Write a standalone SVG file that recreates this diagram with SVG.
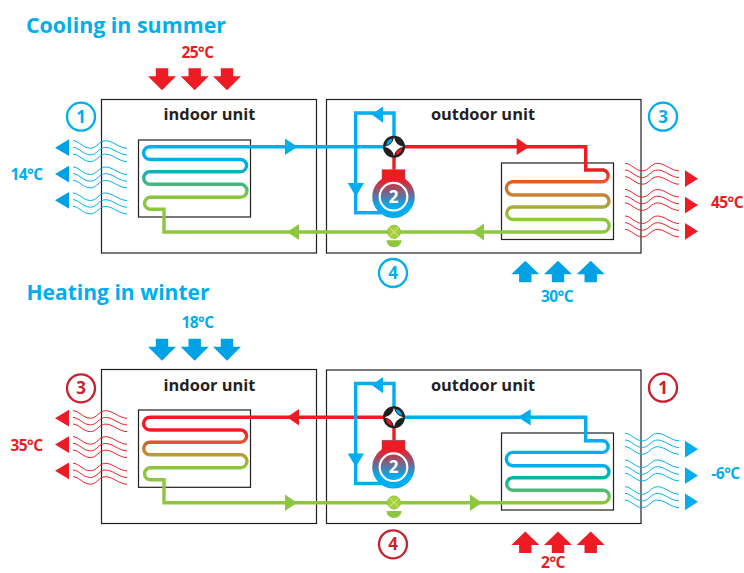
<svg xmlns="http://www.w3.org/2000/svg" width="744" height="573" viewBox="0 0 744 573">
<style>
text{font-family:"Open Sans","Noto Sans","Liberation Sans",sans-serif;font-weight:700}
.title{font-size:22px;fill:#00aeef}
.t{font-size:15.500px;letter-spacing:-.5px;text-anchor:middle}
.unit{font-size:16.400px;fill:#231f20;text-anchor:middle}
.n{font-size:17px;text-anchor:middle}
.box{fill:none;stroke:#231f20;stroke-width:1.2}
.pipe{fill:none;stroke-width:3.4;stroke-linejoin:miter}
.wave{fill:none;stroke-width:1}
.c{fill:none;stroke-width:2.3}
.blue{fill:#00aeef}.red{fill:#ed1c24}.darkb{fill:#00a2e5}
.sb{stroke:#00aeef}.sr{stroke:#ed1c24}.sg{stroke:#8dc63f}
.db{stroke:#00aeef;fill:none}.dr{stroke:#c9222f;fill:none}
</style>
<defs>
<linearGradient id="gI1" gradientUnits="userSpaceOnUse" x1="0" y1="146" x2="0" y2="198"><stop offset="0" stop-color="#00aeef"/><stop offset=".28" stop-color="#00aeef"/><stop offset=".5" stop-color="#0fb2b5"/><stop offset=".75" stop-color="#45b97c"/><stop offset="1" stop-color="#8dc63f"/></linearGradient>
<linearGradient id="gO1" gradientUnits="userSpaceOnUse" x1="0" y1="170" x2="0" y2="219"><stop offset="0" stop-color="#ed1c24"/><stop offset=".25" stop-color="#e0602a"/><stop offset=".5" stop-color="#c98035"/><stop offset=".75" stop-color="#a9a93a"/><stop offset="1" stop-color="#8dc63f"/></linearGradient>
<linearGradient id="gI2" gradientUnits="userSpaceOnUse" x1="0" y1="417" x2="0" y2="468"><stop offset="0" stop-color="#ed1c24"/><stop offset=".25" stop-color="#ed1c24"/><stop offset=".5" stop-color="#e5552c"/><stop offset=".75" stop-color="#b89d38"/><stop offset="1" stop-color="#8dc63f"/></linearGradient>
<linearGradient id="gO2" gradientUnits="userSpaceOnUse" x1="0" y1="440" x2="0" y2="502"><stop offset="0" stop-color="#00aeef"/><stop offset=".4" stop-color="#00aeef"/><stop offset=".6" stop-color="#00b4a5"/><stop offset=".8" stop-color="#4db97a"/><stop offset="1" stop-color="#8dc63f"/></linearGradient>
<linearGradient id="gC" x1="0" y1="0" x2="0" y2="1"><stop offset=".1" stop-color="#ed1c24"/><stop offset=".72" stop-color="#00aeef"/></linearGradient>
<path id="adown" d="M-6.200 0H6.200V8H14L0 22L-14 8H-6.200Z"/>
<path id="aup" d="M-6.200 21.500H6.200V13.500H14L0 0L-14 13.500H-6.200Z"/>
<g id="wv">
<path id="w1" d="M0 0C6 0 10 7.500 17.500 7.500C24 7.500 26 0 32.500 0C40 0 46 7.500 54 7.500"/>
<use href="#w1" y="6.700"/><use href="#w1" y="13.400"/>
</g>
<g id="valveStar"><circle r="11" fill="#231f20"/><path d="M0 -9.500Q1.500 -1.500 9.500 0Q1.500 1.500 0 9.500Q-1.500 1.500 -9.500 0Q-1.500 -1.500 0 -9.500Z" fill="#fff"/></g>
<g id="comp">
<rect x="-11.500" y="-27" width="23" height="13" fill="#ed1c24" stroke="#00aeef" stroke-width=".6"/>
<circle r="21.300" fill="url(#gC)"/>
<rect x="-11.200" y="-26.700" width="22.400" height="10" fill="#ed1c24"/>
<circle r="13.800" fill="none" stroke="#fff" stroke-width="2.200"/>
<text class="n" y="6.200" style="fill:#fff">2</text>
</g>
<g id="exp">
<circle r="6.500" fill="#a5cf3c" stroke="#8dc63f"/>
<path d="M-4.500 -4.500L4.500 4.500M-4.500 4.500L4.500 -4.500" stroke="#e6ee9c" stroke-width=".9"/>
<path d="M-7.500 8.500H7.500A7.500 7 0 0 1 -7.500 8.500Z" fill="#8dc63f"/>
</g>
</defs>

<text id="title-cooling" class="title" x="26" y="33" textLength="200" lengthAdjust="spacingAndGlyphs">Cooling in summer</text>
<text id="title-heating" class="title" x="26.500" y="300" textLength="183" lengthAdjust="spacingAndGlyphs">Heating in winter</text>

<g id="panel-cooling">
<g id="indoor-unit-1"><rect class="box" x="101.500" y="99.500" width="215" height="153.500"/><text class="unit" x="209.500" y="120">indoor unit</text><rect class="box" x="138.500" y="140" width="112" height="77"/></g>
<g id="outdoor-unit-1"><rect class="box" x="326.500" y="99.500" width="314.500" height="153.500"/><text class="unit" x="483" y="120">outdoor unit</text><rect class="box" x="501.500" y="163" width="112" height="76.500"/></g>

<g id="connectors-1">
<path class="pipe" stroke="url(#gI1)" d="M150 146.700A6.400 6.400 0 0 0 150 159.500H240.500A6.100 6.100 0 0 1 240.500 171.700H150A6.300 6.300 0 0 0 150 184.300H240.500A6.500 6.500 0 0 1 240.500 197.300H150"/>
<path class="pipe sg" d="M150.500 197.300A6 6 0 0 0 150.500 209.300H164V232H603A6.200 6.200 0 0 0 603 219.500"/>
<path class="pipe sb" d="M150 146.700H394"/>
<path class="pipe" stroke="url(#gO1)" d="M603 170A5.900 5.900 0 0 1 603 181.700H513A6.600 6.600 0 0 0 513 195H603A6 6 0 0 1 603 207H513A6.200 6.200 0 0 0 513 219.500H603"/>
<path class="pipe sr" d="M394 146.700H585.700V170H604M394 146.700V172"/>
<path class="pipe sb" d="M394 146.700V113H355.700V212.700H382"/>
<path class="blue" d="M285 138.500L297.500 146.700L285 155Z"/>
<path class="blue" d="M371.700 114.500L383 106.500V122.800Z"/>
<path class="blue" d="M347.700 183H364L355.800 196.500Z"/>
<path class="red" d="M516.700 138L529.500 146.700L516.700 155Z"/>
<path d="M287 232L299 224V240Z" fill="#8dc63f"/>
<path d="M472 232L484 223.500V240.500Z" fill="#8dc63f"/>
</g>
<g id="valve-1" transform="translate(394,146.700)"><use href="#valveStar"/><path d="M-8 -1.500Q-2.500 -3 -1.500 -8Q-7 -8 -8 -1.500Z" fill="#00aeef"/><path d="M8 1.500Q2.500 3 1.500 8Q7 8 8 1.500Z" fill="#ed1c24"/></g>
<g id="compressor-1" transform="translate(393.500,196.700)"><use href="#comp"/></g>
<g id="expansion-1" transform="translate(394,231.800)"><use href="#exp"/></g>

<g id="badge-1"><circle class="c db" cx="81" cy="116.700" r="14"/><text class="n blue" x="81" y="122.700">1</text></g>
<g id="badge-3"><circle class="c db" cx="663" cy="116.700" r="14"/><text class="n blue" x="663" y="122.700">3</text></g>
<g id="badge-4"><circle class="c db" cx="393" cy="273" r="14"/><text class="n blue" x="393" y="279">4</text></g>

<g id="air-in-1" class="red"><use href="#adown" x="162" y="68.300"/><use href="#adown" x="194.700" y="68.300"/><use href="#adown" x="227" y="68.300"/><text class="t" x="197.500" y="58">25°C</text></g>
<g id="air-left-1" class="darkb"><path d="M55 147.700L69 139.300V156Z"/><path d="M55 174L69 165.700V182.500Z"/><path d="M55 200.300L69 192V208.700Z"/><text class="t blue" x="26.500" y="180">14°C</text>
<g class="wave sb"><use href="#wv" x="73" y="140.700"/><use href="#wv" x="73" y="167"/><use href="#wv" x="73" y="193"/></g></g>
<g id="air-right-1" class="red"><path d="M698 178.700L685 170.300V187Z"/><path d="M698 205L685 196.700V213.500Z"/><path d="M698 231.300L685 223V239.700Z"/><text class="t" x="727" y="208">45°C</text>
<g class="wave sr"><use href="#wv" x="625" y="163.300"/><use href="#wv" x="625" y="189.500"/><use href="#wv" x="625" y="216"/></g></g>
<g id="air-up-1" class="darkb"><use href="#aup" x="525.300" y="260.700"/><use href="#aup" x="558" y="260.700"/><use href="#aup" x="590.700" y="260.700"/><text class="t blue" x="557" y="302">30°C</text></g>
</g>

<g id="panel-heating">
<g id="indoor-unit-2"><rect class="box" x="101.500" y="369.500" width="215" height="154"/><text class="unit" x="209.500" y="390.500">indoor unit</text><rect class="box" x="138.500" y="410" width="112" height="77.300"/></g>
<g id="outdoor-unit-2"><rect class="box" x="326.500" y="370" width="314.500" height="153.500"/><text class="unit" x="483" y="391">outdoor unit</text><rect class="box" x="501.500" y="433" width="112" height="77"/></g>

<g id="connectors-2">
<path class="pipe" stroke="url(#gI2)" d="M150 417.200A6.400 6.400 0 0 0 150 430H240.500A6.100 6.100 0 0 1 240.500 442.200H150A6.300 6.300 0 0 0 150 454.800H240.500A6.500 6.500 0 0 1 240.500 467.800H150"/>
<path class="pipe sr" d="M150 417.200H394V442"/>
<path class="pipe sg" d="M150.500 467.800A6 6 0 0 0 150.500 479.800H164V502.700H516"/>
<path class="pipe" stroke="url(#gO2)" d="M603 440.700A5.900 5.900 0 0 1 603 452.400H513A6.600 6.600 0 0 0 513 465.700H603A6 6 0 0 1 603 477.700H513A6.200 6.200 0 0 0 513 490.200H603A6.200 6.200 0 0 1 603 502.700H516"/>
<path class="pipe sb" d="M394 417.300H585.700V440.700H604"/>
<path class="pipe sb" d="M394 417.300V383.500H355.700V483.500H382"/>
<path class="red" d="M287 417.200L299 409V425.500Z"/>
<path d="M297 502.700L285 494.500V511Z" fill="#8dc63f"/>
<path d="M482 502.700L470 494.500V511Z" fill="#8dc63f"/>
<path class="blue" d="M518 417.300L530.700 409V425.500Z"/>
<path class="blue" d="M371.700 385L383 377V393.300Z"/>
<path class="blue" d="M347.700 453.500H364L355.800 467Z"/>
</g>
<g id="valve-2" transform="translate(394,417.300)"><use href="#valveStar"/><path d="M8 -1.500Q2.500 -3 1.500 -8Q7 -8 8 -1.500Z" fill="#00aeef"/><path d="M-8 1.500Q-2.500 3 -1.500 8Q-7 8 -8 1.500Z" fill="#ed1c24"/></g>
<g id="compressor-2" transform="translate(393.500,467.200)"><use href="#comp"/></g>
<g id="expansion-2" transform="translate(394,502.500)"><use href="#exp"/></g>

<g id="badge-h3"><circle class="c dr" cx="81" cy="388.300" r="14"/><text class="n" style="fill:#c9222f" x="81" y="394.300">3</text></g>
<g id="badge-h1"><circle class="c dr" cx="663" cy="387.700" r="14"/><text class="n" style="fill:#c9222f" x="663" y="393.700">1</text></g>
<g id="badge-h4"><circle class="c dr" cx="393" cy="544.300" r="14"/><text class="n" style="fill:#c9222f" x="393" y="550.300">4</text></g>

<g id="air-in-2" class="darkb"><use href="#adown" x="162" y="338.700"/><use href="#adown" x="194.700" y="338.700"/><use href="#adown" x="227" y="338.700"/><text class="t blue" x="197.500" y="328">18°C</text></g>
<g id="air-left-2" class="red"><path d="M55 418.200L69 409.800V426.500Z"/><path d="M55 444.500L69 436.200V453Z"/><path d="M55 470.800L69 462.500V479.200Z"/><text class="t" x="26.500" y="451">35°C</text>
<g class="wave sr"><use href="#wv" x="73" y="410.700"/><use href="#wv" x="73" y="436.700"/><use href="#wv" x="73" y="463.300"/></g></g>
<g id="air-right-2" class="blue"><path d="M698 449.200L685 440.800V457.500Z"/><path d="M698 475.500L685 467.200V484Z"/><path d="M698 501.800L685 493.500V510.200Z"/><text class="t" x="725.500" y="479">-6°C</text>
<g class="wave sb"><use href="#wv" x="625" y="433.300"/><use href="#wv" x="625" y="460"/><use href="#wv" x="625" y="486.700"/></g></g>
<g id="air-up-2" class="red"><use href="#aup" x="525.300" y="531.500"/><use href="#aup" x="558" y="531.500"/><use href="#aup" x="590.700" y="531.500"/><text class="t" x="553" y="568">2°C</text></g>
</g>
</svg>
